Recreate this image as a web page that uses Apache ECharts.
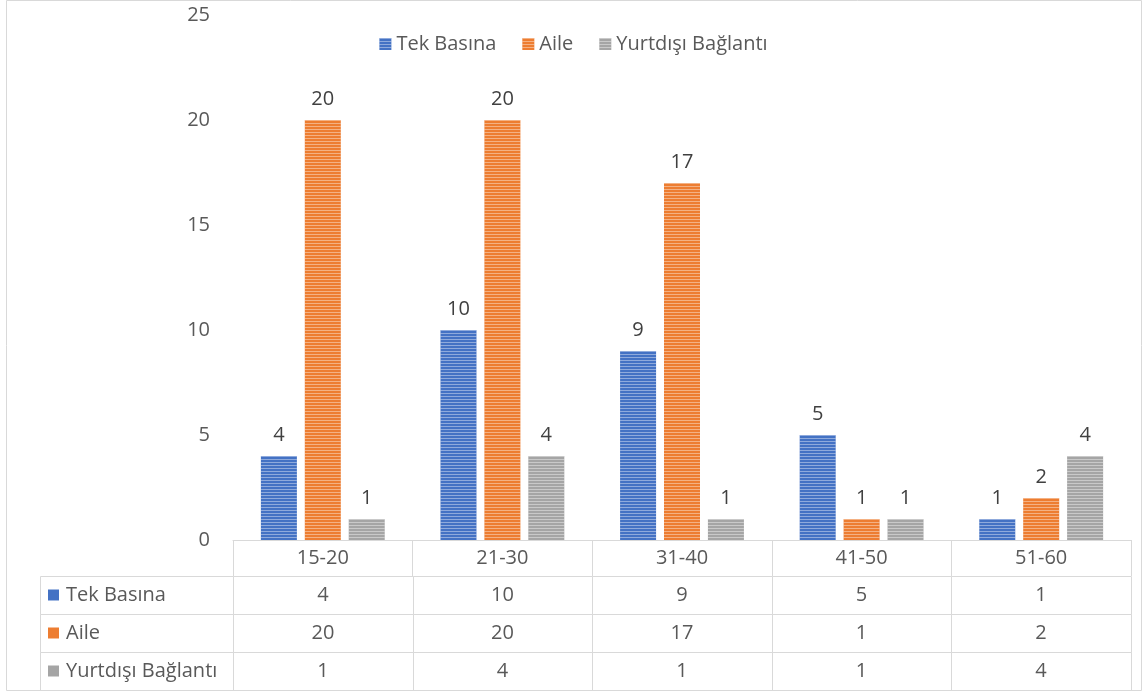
<!DOCTYPE html>
<html>
<head>
<meta charset="utf-8">
<script src="https://cdn.jsdelivr.net/npm/echarts@6/dist/echarts.min.js"></script>
<style>
  html, body { margin: 0; padding: 0; background: #fff; }
  #chart { width: 1147px; height: 692px; }
</style>
</head>
<body>
<div id="chart"></div>
<script>
const categories = ["15-20", "21-30", "31-40", "41-50", "51-60"];
const seriesNames = ["Tek Basına", "Aile", "Yurtdışı Bağlantı"];
const tekBasina = [4, 10, 9, 5, 1];
const aile = [20, 20, 17, 1, 2];
const yurtdisi = [1, 4, 1, 1, 4];
const yTicks = [0, 5, 10, 15, 20, 25];

const colors = ["#4472C4", "#ED7D31", "#A5A5A5"];
const values = [tekBasina, aile, yurtdisi];
const font = "'Open Sans', sans-serif";
const textColor = "#595959";
const lineColor = "#d9d9d9";
const fs = 20;

// width of the label column of the data table, in category units
const labelCol = 193 / 179.4;

// cells of the data table: [col, row] (col -1 = series name)
const tableCells = [];
values.forEach((vals, r) => {
  tableCells.push([-1, r]);
  vals.forEach((v, c) => tableCells.push([c, r]));
});

const stripes = {
  symbol: "rect",
  symbolSize: 1,
  dashArrayX: [1, 0],
  dashArrayY: [1, 2],
  rotation: 0,
  color: "rgba(255,255,255,0.4)"
};

const chart = echarts.init(document.getElementById("chart"), null, { renderer: "canvas" });

chart.setOption({
  animation: false,
  textStyle: { fontFamily: font },
  legend: {
    top: 29,
    left: "center",
    itemWidth: 12,
    itemHeight: 12,
    itemGap: 26,
    icon: "rect",
    textStyle: { fontSize: fs, color: textColor, fontFamily: font },
    data: seriesNames
  },
  grid: [
    { left: 233, right: 16, top: 15, height: 525 },
    { left: 40, right: 16, top: 576, height: 114 }
  ],
  xAxis: [
    {
      type: "category",
      gridIndex: 0,
      data: categories,
      axisLine: { lineStyle: { color: lineColor, width: 1 } },
      axisTick: { show: true, length: 36, interval: 0, lineStyle: { color: lineColor } },
      axisLabel: { fontSize: fs, color: textColor, margin: 8, fontFamily: font }
    },
    { type: "value", gridIndex: 1, min: -labelCol, max: 5, show: false }
  ],
  yAxis: [
    {
      type: "value",
      gridIndex: 0,
      min: yTicks[0],
      max: yTicks[yTicks.length - 1],
      interval: 5,
      splitLine: { show: false },
      axisLine: { show: false },
      axisTick: { show: false },
      axisLabel: { fontSize: fs, color: textColor, margin: 23, fontFamily: font }
    },
    { type: "value", gridIndex: 1, min: 0, max: 3, inverse: true, show: false }
  ],
  series: seriesNames.map((name, i) => ({
    name: name,
    type: "bar",
    xAxisIndex: 0,
    yAxisIndex: 0,
    data: values[i],
    barWidth: 36,
    barGap: "22%",
    itemStyle: { color: colors[i], decal: stripes },
    label: {
      show: true,
      position: "top",
      distance: 11,
      fontSize: fs,
      color: "#404040",
      fontFamily: font
    }
  })).concat([{
    type: "custom",
    xAxisIndex: 1,
    yAxisIndex: 1,
    silent: true,
    data: tableCells,
    renderItem: function (params, api) {
      const col = api.value(0);
      const row = api.value(1);
      const x0 = col < 0 ? -labelCol : col;
      const p0 = api.coord([x0, row]);
      const p1 = api.coord([col + 1, row + 1]);
      const l = Math.round(p0[0]), t = Math.round(p0[1]);
      const r = Math.round(p1[0]), b = Math.round(p1[1]);
      const h = b - t;
      const children = [{
        type: "rect",
        shape: { x: l + 0.5, y: t + 0.5, width: r - l, height: h },
        style: { fill: "none", stroke: lineColor, lineWidth: 1 }
      }];
      if (col < 0) {
        children.push({
          type: "rect",
          shape: { x: l + 8, y: t + h / 2 - 5.5, width: 11, height: 11 },
          style: { fill: colors[row] }
        });
        children.push({
          type: "text",
          style: {
            x: l + 26, y: t + h / 2,
            text: seriesNames[row],
            fill: textColor, font: fs + "px " + font,
            align: "left", verticalAlign: "middle"
          }
        });
      } else {
        children.push({
          type: "text",
          style: {
            x: (l + r) / 2, y: t + h / 2,
            text: String(values[row][col]),
            fill: textColor, font: fs + "px " + font,
            align: "center", verticalAlign: "middle"
          }
        });
      }
      return { type: "group", children: children };
    }
  }]),
  graphic: [{
    type: "rect",
    silent: true,
    shape: { x: 6.5, y: 0.5, width: 1135, height: 690 },
    style: { fill: "none", stroke: lineColor, lineWidth: 1 }
  }]
});
</script>
</body>
</html>
